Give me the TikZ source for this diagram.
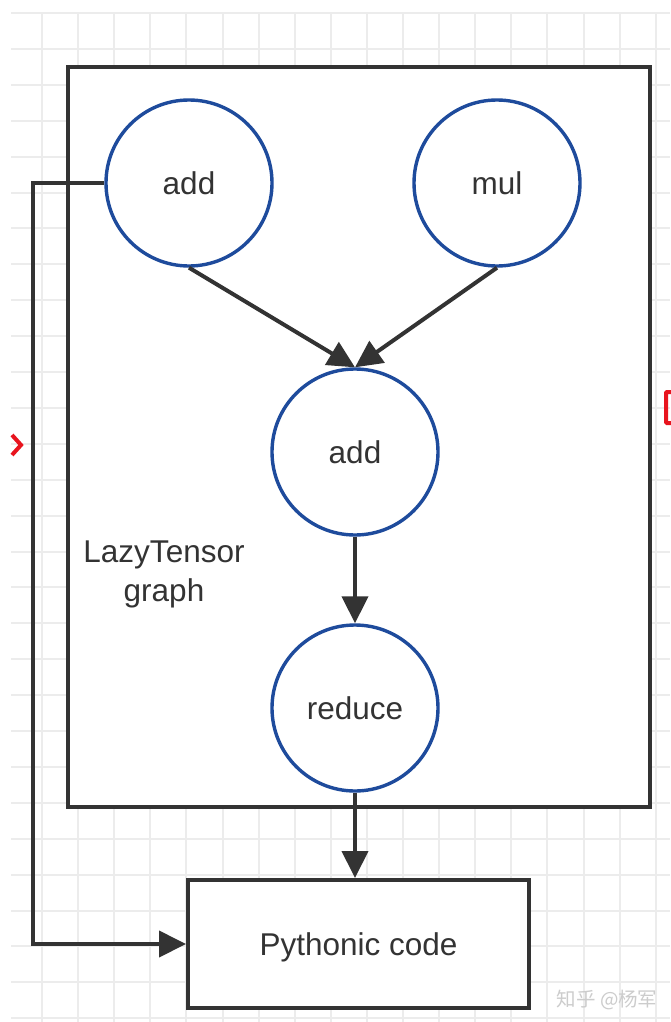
\documentclass[tikz,border=0pt]{standalone}
\usepackage{fontspec}
\setmainfont{Liberation Sans}
\newfontfamily\cjk{Noto Sans CJK SC}
\usetikzlibrary{arrows.meta}
\definecolor{gridc}{HTML}{ECECEC}
\definecolor{ink}{HTML}{333333}
\definecolor{opblue}{HTML}{1E4B9C}
\definecolor{markred}{HTML}{E8141E}
\begin{document}
\begin{tikzpicture}[x=1pt,y=-1pt,
  op/.style={circle, draw=opblue, line width=3.4pt, fill=white, minimum size=166pt, inner sep=0pt,
             text=ink, font=\fontsize{31.5}{34}\selectfont},
  conn/.style={draw=ink, line width=4pt, -{Triangle[length=27pt,width=26pt]}},
  lbl/.style={text=ink, font=\fontsize{31.5}{39}\selectfont, align=center}]
\useasboundingbox (0,0) rectangle (670,1022);
\fill[white] (0,0) rectangle (670,1022);
% grid
\foreach \i in {0,...,17} {
  \draw[gridc, line width=2pt] ({42+36.1*\i},13) -- ({42+36.1*\i},1022);
}
\foreach \j in {0,...,28} {
  \draw[gridc, line width=2pt] (11,{13+35.9*\j}) -- (670,{13+35.9*\j});
}
% red marks
\draw[markred, line width=4pt] (12,435) -- (21,445) -- (12,455);
\draw[markred, line width=4pt, rounded corners=1pt] (673,392) -- (666,392) -- (666,423) -- (673,423);
% main box
\node[draw=ink, line width=4pt, fill=white, minimum width=582pt, minimum height=740pt, inner sep=0pt] (graphbox) at (359,437) {};
% nodes
\node[op] (add1) at (189,183) {add};
\node[op] (mul) at (497,183) {mul};
\node[op] (add2) at (355,452) {add};
\node[op] (reduce) at (355,708) {reduce};
\node[lbl] (lt) at (164,574) {LazyTensor\\graph};
\node[draw=ink, line width=4pt, fill=white, minimum width=341pt, minimum height=128pt, inner sep=0pt] (code) at (358.5,944) {};
\node[text=ink, font=\fontsize{31.5}{34}\selectfont] (codetext) at (358.5,947) {Pythonic code};
% connectors
\draw[conn] (add1.south) -- (add2.north);
\draw[conn] (mul.south) -- (add2.north);
\draw[conn] (add2.south) -- (reduce.north);
\draw[conn] (reduce.south) -- (reduce.south |- code.north);
\coordinate (c1) at (33,183);
\coordinate (c2) at (33,944);
\draw[conn, line join=miter] (add1.west) -- (c1) -- (c2) -- (code.west);
% watermark
\node[text=gray!40, font=\cjk\fontsize{19.5}{22}\selectfont, anchor=east] (wm) at (661,1000) {知乎 @杨军};
\end{tikzpicture}
\end{document}
